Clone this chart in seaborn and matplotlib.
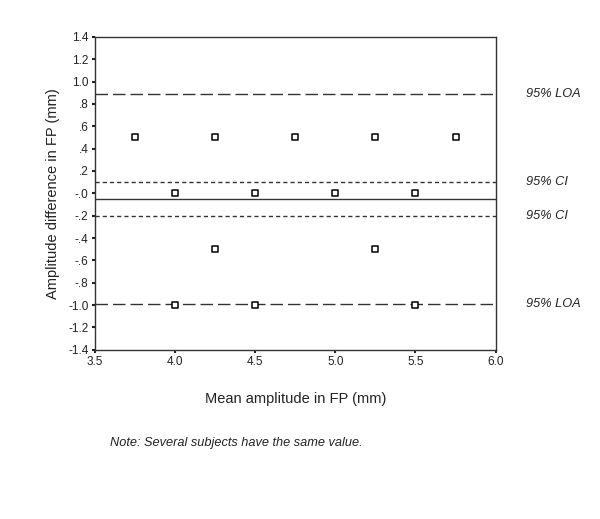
import matplotlib
matplotlib.use("Agg")
import matplotlib.pyplot as plt
import matplotlib.transforms as mtransforms
import seaborn as sns
import pandas as pd

# data
mean_amp = [3.75, 4.25, 4.75, 5.25, 5.75, 4.0, 4.5, 5.0, 5.5, 4.25, 5.25, 4.0, 4.5, 5.5]
amp_diff = [0.5, 0.5, 0.5, 0.5, 0.5, 0.0, 0.0, 0.0, 0.0, -0.5, -0.5, -1.0, -1.0, -1.0]

mean_diff = -0.05
ci_upper = 0.10
ci_lower = -0.20
loa_upper = 0.885
loa_lower = -0.99

y_ticks = [1.4, 1.2, 1.0, 0.8, 0.6, 0.4, 0.2, 0.0, -0.2, -0.4, -0.6, -0.8, -1.0, -1.2, -1.4]
y_tick_labels = ["1.4", "1.2", "1.0", ".8", ".6", ".4", ".2", "-.0", "-.2", "-.4",
                 "-.6", "-.8", "-1.0", "-1.2", "-1.4"]
x_ticks = [3.5, 4.0, 4.5, 5.0, 5.5, 6.0]

df = pd.DataFrame({"mean": mean_amp, "diff": amp_diff})

sns.set_style("white")
plt.rcParams['font.family'] = ['Liberation Sans', 'DejaVu Sans']

fig = plt.figure(figsize=(6, 5.19), dpi=100)
ax = fig.add_axes([0.158, 0.326, 0.668, 0.603])

sns.scatterplot(data=df, x="mean", y="diff", marker="s", s=13, facecolor="white",
                edgecolor="black", linewidth=1.1, ax=ax, zorder=3)

ax.axhline(mean_diff, color="#333333", lw=1.0)
ax.axhline(ci_upper, color="#333333", lw=1.0, dashes=(3, 2.2))
ax.axhline(ci_lower, color="#333333", lw=1.0, dashes=(3, 2.2))
ax.axhline(loa_upper, color="#333333", lw=1.0, dashes=(9, 3.6))
ax.axhline(loa_lower, color="#333333", lw=1.0, dashes=(9, 3.6))

trans = mtransforms.blended_transform_factory(ax.transAxes, ax.transData)
for yv, lab in [(loa_upper, "95% LOA"), (ci_upper, "95% CI"),
                (ci_lower, "95% CI"), (loa_lower, "95% LOA")]:
    ax.text(1.077, yv, lab, transform=trans, fontsize=9.2, style="italic",
            va="center", ha="left", color="#222222")

ax.set_xlim(3.5, 6.0)
ax.set_ylim(-1.4, 1.4)
ax.set_xticks(x_ticks)
ax.set_xticklabels([f"{v:.1f}" for v in x_ticks])
ax.set_yticks(y_ticks)
ax.set_yticklabels(y_tick_labels)
ax.tick_params(axis="both", direction="out", length=2.5, width=1.5, labelsize=8.5,
               pad=2, colors="#222222", bottom=True, left=True)

for sp in ax.spines.values():
    sp.set_visible(True)
    sp.set_color("#333333")
    sp.set_linewidth(1.0)

ax.set_xlabel("Mean amplitude in FP (mm)", fontsize=10.5, labelpad=17, color="#222222")
ax.set_ylabel("Amplitude difference in FP (mm)", fontsize=10.5, labelpad=6, color="#222222")

fig.text(110 / 600, 1 - 443 / 519, "Note: Several subjects have the same value.",
         fontsize=9.2, style="italic", va="center", ha="left", color="#222222")

fig.savefig("out.png", dpi=100, facecolor="white")
